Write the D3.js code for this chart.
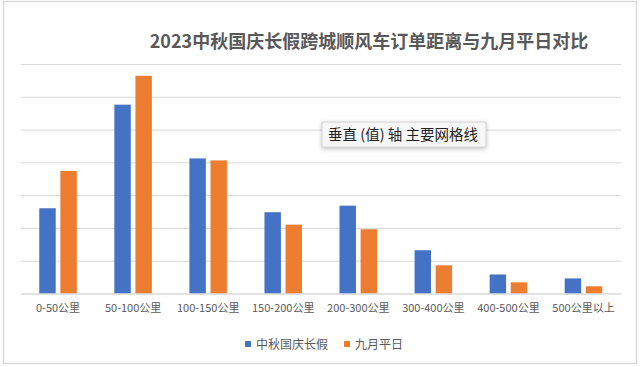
<!DOCTYPE html>
<html><head><meta charset="utf-8">
<script src="https://cdn.jsdelivr.net/npm/d3@7"></script>
<style>
html,body{margin:0;padding:0;background:#fff;}
svg text{font-family:"Noto Sans CJK SC","Noto Sans",sans-serif;}
</style></head>
<body>
<svg id="chart" width="640" height="367"></svg>
<script>
const categories = ["0-50公里","50-100公里","100-150公里","150-200公里","200-300公里","300-400公里","400-500公里","500公里以上"];
const seriesNames = ["中秋国庆长假","九月平日"];
const holidayValues = [13.0, 28.8, 20.6, 12.4, 13.4, 6.6, 2.9, 2.3];
const weekdayValues = [18.7, 33.2, 20.3, 10.5, 9.8, 4.3, 1.7, 1.1];
const gridTicks = [0,5,10,15,20,25,30,35];
const colors = ["#4472C4","#ED7D31"];
const title = "2023中秋国庆长假跨城顺风车订单距离与九月平日对比";
const tooltipText = "垂直 (值) 轴 主要网格线";

const svg = d3.select("#chart");
// chart border
svg.append("rect").attr("x",3.5).attr("y",1.5).attr("width",633).attr("height",362)
  .attr("fill","#fff").attr("stroke","#d9d9d9").attr("stroke-width",1.5);

const plotL = 20.5, plotR = 621, plotT = 64, plotB = 293.5;
const x = d3.scaleBand().domain(categories).range([plotL,plotR]).paddingInner(0.5).paddingOuter(0.25);
const xs = d3.scaleBand().domain(seriesNames).range([0,x.bandwidth()]).paddingInner(0.22);
const y = d3.scaleLinear().domain([0,35]).range([plotB,plotT]);

// grid lines
svg.append("g").attr("transform",`translate(${plotL},0)`)
  .call(d3.axisLeft(y).tickValues(gridTicks).tickSize(-(plotR-plotL)).tickFormat(""))
  .call(g=>g.select(".domain").remove())
  .call(g=>g.selectAll(".tick line").attr("stroke","#d9d9d9").attr("stroke-width",1));

// bars
const data = categories.map((c,i)=>({cat:c, vals:[holidayValues[i], weekdayValues[i]]}));
const groups = svg.append("g").selectAll("g").data(data).join("g")
  .attr("transform",d=>`translate(${x(d.cat)},0)`);
groups.selectAll("rect").data(d=>d.vals.map((v,j)=>({name:seriesNames[j],v,j}))).join("rect")
  .attr("x",d=>xs(d.name)).attr("width",xs.bandwidth())
  .attr("y",d=>y(d.v)).attr("height",d=>y(0)-y(d.v))
  .attr("fill",d=>colors[d.j]);

// x axis
const xAxis = svg.append("g").attr("transform",`translate(0,${plotB})`)
  .call(d3.axisBottom(x).tickSize(0).tickPadding(11));
xAxis.select(".domain").attr("stroke","#d9d9d9");
xAxis.selectAll("text").attr("font-size",11).attr("fill","#595959")
  .style("font-family",'"Noto Sans CJK SC",sans-serif');

// title
svg.append("text").attr("x",369).attr("y",48).attr("text-anchor","middle")
  .attr("font-size",18).attr("font-weight","bold").attr("fill","#595959").text(title);

// legend
const legendItems = [{name:seriesNames[0],x:245},{name:seriesNames[1],x:344}];
const lg = svg.append("g").selectAll("g").data(legendItems).join("g")
  .attr("transform",d=>`translate(${d.x},341)`);
lg.append("rect").attr("width",6).attr("height",6).attr("fill",(d,i)=>colors[i]);
lg.append("text").attr("x",11).attr("y",7.5).attr("font-size",12).attr("fill","#595959").text(d=>d.name);

// tooltip
const tip = svg.append("g").attr("transform","translate(322,122)");
const defs = svg.append("defs");
const f = defs.append("filter").attr("id","sh").attr("x","-20%").attr("y","-50%").attr("width","140%").attr("height","200%");
f.append("feDropShadow").attr("dx",0).attr("dy",1.5).attr("stdDeviation",2).attr("flood-color","#000").attr("flood-opacity",0.25);
tip.append("rect").attr("width",164).attr("height",25).attr("fill","#f7f7f7").attr("stroke","#c8c8c8").attr("stroke-width",0.8).attr("filter","url(#sh)");
tip.append("text").attr("x",6).attr("y",18).attr("font-size",14.5).attr("fill","#222").text(tooltipText);
</script>
</body></html>
